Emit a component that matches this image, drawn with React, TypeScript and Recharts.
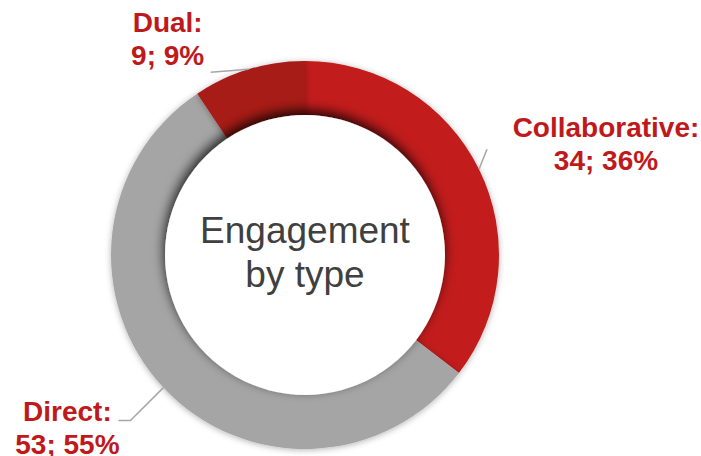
import React from "react";
import { PieChart, Pie, Cell } from "recharts";

const categories = ["Collaborative", "Direct", "Dual"];
const counts = [34, 53, 9];
const shares = [36, 55, 9];
const colors = ["#C21B1B", "#A5A5A5", "#A71A19"];
const centerTitle = ["Engagement", "by type"];

const data = categories.map((name, i) => ({
  name,
  value: counts[i],
  share: shares[i],
}));
const hole = [{ name: "hole", value: 1 }];

const RAD = Math.PI / 180;
const FONT = '"Liberation Sans", Arial, sans-serif';

// where each label sits, relative to the spot where its leader line meets the ring
const labelLayout: Record<
  string,
  { dx: number; dy: number; line: [number, number][] }
> = {
  Collaborative: { dx: 127, dy: -32, line: [[8, -20]] },
  Direct: { dx: -96, dy: 33, line: [[-33, 33], [-45, 33]] },
  Dual: { dx: -81, dy: -37, line: [[-38, 3]] },
};

const edgePoint = (p: any) => ({
  x: p.cx + p.outerRadius * Math.cos(-p.midAngle * RAD),
  y: p.cy + p.outerRadius * Math.sin(-p.midAngle * RAD),
});

const renderLabel = (props: any) => {
  const { x, y } = edgePoint(props);
  const entry = props.payload;
  const l = labelLayout[entry.name];
  const lx = x + l.dx;
  return (
    <text
      x={lx}
      y={y + l.dy}
      textAnchor="middle"
      fill="#C0191B"
      fontSize={28}
      fontWeight="bold"
      fontFamily={FONT}
    >
      <tspan x={lx}>{entry.name}:</tspan>
      <tspan x={lx} dy={33}>
        {entry.value}; {entry.share}%
      </tspan>
    </text>
  );
};

const renderLine = (props: any) => {
  const { x, y } = edgePoint(props);
  const l = labelLayout[props.payload.name];
  const pts = [[x, y], ...l.line.map(([dx, dy]) => [x + dx, y + dy])];
  return (
    <polyline
      points={pts.map((p) => p.join(",")).join(" ")}
      fill="none"
      stroke="#A6A6A6"
      strokeWidth={1.5}
    />
  );
};

const renderCenter = (props: any) => {
  const { cx, cy } = props;
  return (
    <text
      x={cx}
      y={cy}
      textAnchor="middle"
      fill="#404040"
      fontSize={37}
      fontFamily={FONT}
    >
      <tspan x={cx} dy={-12}>
        {centerTitle[0]}
      </tspan>
      <tspan x={cx} dy={44}>
        {centerTitle[1]}
      </tspan>
    </text>
  );
};

export default function App() {
  document.body.style.margin = "0";
  return (
    <div style={{ width: 701, height: 456, background: "#fff" }}>
      <svg width={0} height={0} style={{ position: "absolute" }}>
        <defs>
          <filter id="ringGlow" x="-20%" y="-20%" width="140%" height="140%">
            <feDropShadow dx={0} dy={1} stdDeviation={3} floodColor="#000" floodOpacity={0.3} />
          </filter>
          <filter id="holeShadow" x="-20%" y="-20%" width="140%" height="140%">
            <feDropShadow dx={-1} dy={-5} stdDeviation={6} floodColor="#000" floodOpacity={0.8} />
          </filter>
        </defs>
      </svg>
      <PieChart
        width={701}
        height={456}
        margin={{ top: 0, right: 0, bottom: 0, left: 0 }}
      >
        <Pie
          data={data}
          dataKey="value"
          nameKey="name"
          cx={305}
          cy={255}
          innerRadius={120}
          outerRadius={194}
          startAngle={90}
          endAngle={-270}
          stroke="none"
          label={renderLabel}
          labelLine={renderLine}
          isAnimationActive={false}
        >
          {data.map((d, i) => (
            <Cell key={d.name} fill={colors[i]} filter="url(#ringGlow)" />
          ))}
        </Pie>
        <Pie
          data={hole}
          dataKey="value"
          cx={305}
          cy={255}
          innerRadius={0}
          outerRadius={140}
          stroke="none"
          label={renderCenter}
          labelLine={false}
          isAnimationActive={false}
        >
          <Cell fill="#FFFFFF" filter="url(#holeShadow)" />
        </Pie>
      </PieChart>
    </div>
  );
}
